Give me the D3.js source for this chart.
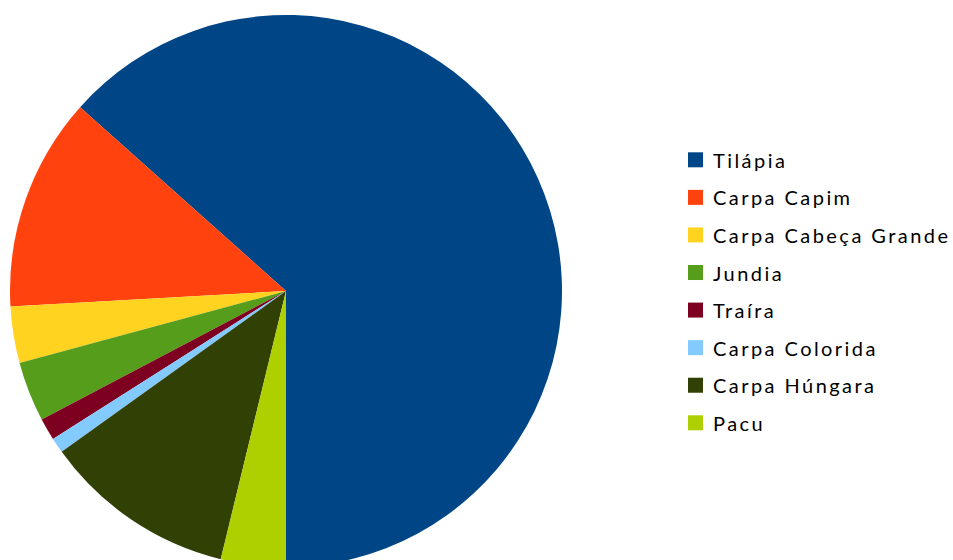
<!DOCTYPE html>
<html>
<head>
<meta charset="utf-8">
<script src="https://cdn.jsdelivr.net/npm/d3@7"></script>
<style>
  html, body { margin: 0; padding: 0; background: #ffffff; }
  svg { display: block; }
</style>
</head>
<body>
<svg id="chart" width="953" height="560"></svg>
<script>
// Species and their share of production (%)
const species = ["Tilápia", "Carpa Capim", "Carpa Cabeça Grande", "Jundia", "Traíra", "Carpa Colorida", "Carpa Húngara", "Pacu"];
const shares = [63.4, 12.5, 3.3, 3.5, 1.3, 0.9, 11.3, 3.8];
const palette = ["#004586", "#ff420e", "#ffd320", "#579d1c", "#7e0021", "#83caff", "#314004", "#aecf00"];

const svg = d3.select("#chart");
const W = 953, H = 560;
const cx = 286, cy = 291, radius = 276;

const rows = species.map((name, i) => ({ name, value: shares[i] }));

// Slices run counter-clockwise starting from the bottom of the circle
const pie = d3.pie()
  .value(d => d.value)
  .sort(null)
  .startAngle(Math.PI)
  .endAngle(Math.PI - 2 * Math.PI);

const arc = d3.arc().innerRadius(0).outerRadius(radius);
const color = d3.scaleOrdinal().domain(species).range(palette);

svg.append("g")
  .attr("transform", `translate(${cx},${cy})`)
  .selectAll("path")
  .data(pie(rows))
  .join("path")
  .attr("d", arc)
  .attr("fill", d => color(d.data.name));

// Legend
const legendY = d3.scalePoint().domain(species).range([159.8, 422.8]);
const legend = svg.append("g").attr("font-family", "Lato, 'Open Sans', sans-serif");

const items = legend.selectAll("g")
  .data(species)
  .join("g")
  .attr("transform", d => `translate(688,${legendY(d)})`);

items.append("rect")
  .attr("x", 0)
  .attr("y", -7.5)
  .attr("width", 15)
  .attr("height", 15)
  .attr("fill", d => color(d));

const labels = items.append("text")
  .attr("x", 25)
  .attr("y", 8)
  .attr("font-size", 20)
  .attr("fill", "#000")
  .text(d => d);

// Spread letters so the longest label spans its full width
const longest = labels.filter(d => d === "Carpa Cabeça Grande").node();
const natural = longest.getComputedTextLength();
const targetWidth = 235;
const spacing = (targetWidth - natural) / ("Carpa Cabeça Grande".length - 1);
labels.attr("letter-spacing", Math.max(0, spacing));
</script>
</body>
</html>
